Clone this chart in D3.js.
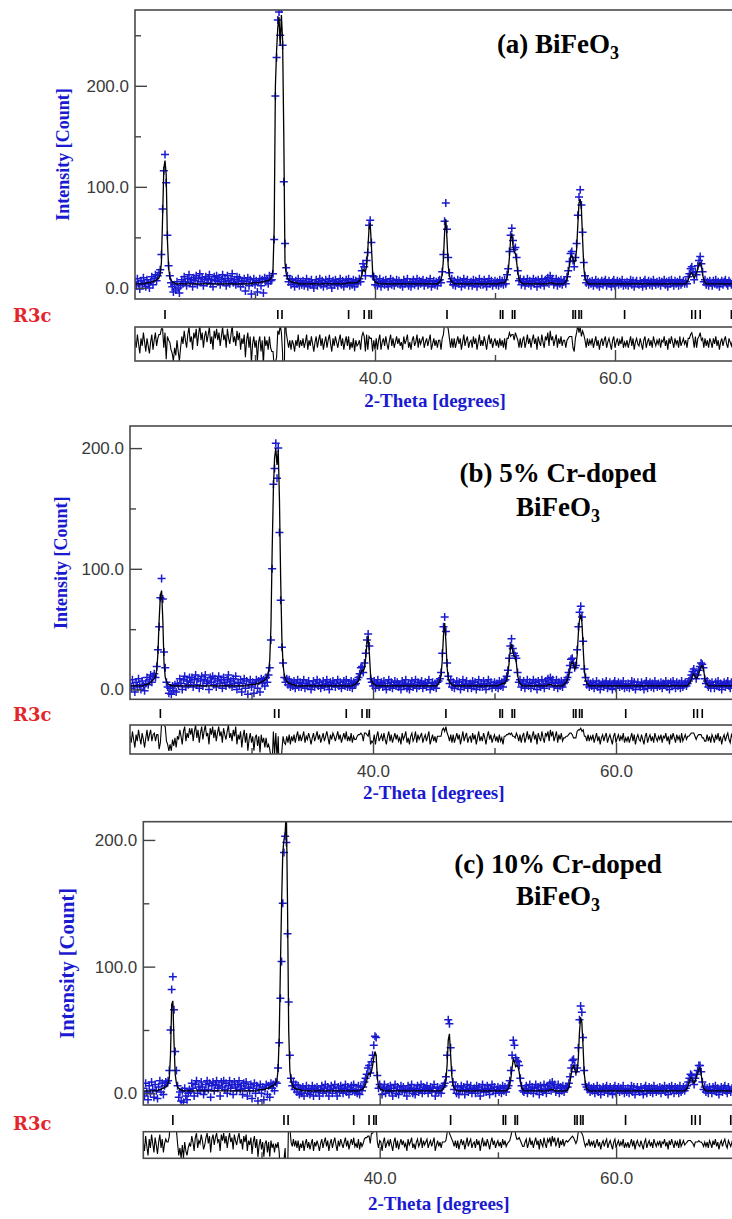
<!DOCTYPE html>
<meta charset="utf-8">
<script src="https://d3js.org/d3.v7.min.js"></script>
<style>
  body { margin: 0; background: #fff; }
  svg { display: block; }
</style>
<svg></svg>
<script>

var width = 732, height = 1219;

// scans run 20.0 -> 69.9 deg 2-theta, one value every 0.1 deg (one row = one degree)
var startAngle = 20, stepAngle = 0.1;

var obsA = [
  6,2,9,4,-1,7,3,10,5,1,
  8,4,0,6,11,3,9,13,7,12,
  15,18,33,78,116,132,104,52,22,12,
  5,1,-4,3,-2,6,0,-5,2,8,
  4,11,6,2,9,13,5,8,1,10,
  7,12,3,9,14,6,10,2,8,11,
  5,9,13,4,8,1,11,7,12,6,
  10,3,8,13,6,9,2,12,7,4,
  9,14,5,8,3,11,6,10,1,7,
  4,9,-3,6,10,2,8,-6,5,9,
  3,7,-4,6,9,2,8,-5,10,6,
  9,4,12,7,8,14,48,190,228,265,
  273,250,276,240,105,44,20,12,6,9,
  3,8,5,1,7,4,9,2,6,3,
  7,2,5,9,1,6,3,8,4,0,
  5,8,2,6,9,3,7,1,5,8,
  2,6,9,4,0,7,3,8,5,2,
  6,9,3,7,1,5,8,4,9,2,
  6,3,8,1,7,4,6,9,6,17,
  24,21,12,27,35,62,67,45,12,11,
  3,8,2,6,9,1,5,7,3,8,
  4,1,6,9,3,7,2,5,8,4,
  7,3,5,1,8,4,6,9,2,5,
  1,6,8,3,5,9,2,7,4,6,
  8,2,5,7,3,6,9,1,4,7,
  3,6,2,7,8,5,16,33,66,84,
  58,30,15,6,9,3,7,2,5,8,
  4,7,1,5,9,3,6,8,2,5,
  6,2,8,4,7,1,5,9,3,6,
  3,8,5,1,6,9,4,7,2,5,
  7,3,6,2,8,4,7,3,8,4,
  13,19,36,52,59,47,38,40,30,17,
  7,9,3,6,8,2,5,9,4,7,
  2,6,9,4,7,1,8,5,3,9,
  5,2,8,6,10,4,12,7,9,3,
  6,9,2,7,4,8,3,6,7,4,
  11,17,26,34,36,27,21,30,44,72,
  90,97,82,55,25,12,5,8,3,6,
  4,7,2,5,8,3,6,1,5,7,
  3,6,8,2,5,7,4,1,6,8,
  2,5,7,3,6,4,8,2,5,3,
  6,2,5,8,3,7,1,5,7,4,
  3,7,4,1,6,8,2,5,7,3,
  6,2,8,5,3,6,4,7,2,6,
  5,8,3,6,1,7,4,8,5,2,
  7,4,6,2,8,3,5,7,4,6,
  4,11,14,19,21,15,8,16,13,22,
  27,31,24,16,6,8,3,6,2,7,
  5,2,7,4,8,3,6,1,5,7,
  3,6,8,4,2,7,5,3,6,4
];

var calcA = [
  4,4,4,4,4,4,4,4,4,5,
  5,5,5,5,6,6,7,7,8,9,
  10,13,25,70,118,126,112,48,20,11,
  8,6,5,5,4,4,4,4,4,4,
  4,4,4,4,4,4,4,4,4,4,
  4,4,4,4,4,4,4,4,4,4,
  4,4,4,4,4,4,4,4,4,4,
  4,4,4,4,4,4,4,4,4,4,
  4,4,4,4,4,4,4,4,4,4,
  4,4,4,4,4,4,4,4,5,5,
  5,5,5,5,5,6,6,6,6,7,
  7,7,8,9,12,18,60,200,235,258,
  268,240,270,245,150,25,14,10,8,7,
  6,6,5,5,5,5,4,4,4,4,
  4,4,4,4,4,4,4,4,4,4,
  4,4,4,4,4,4,4,4,4,4,
  4,4,4,4,4,4,4,4,4,4,
  4,4,4,4,4,4,4,5,5,5,
  5,5,5,5,5,5,6,7,9,13,
  18,17,16,22,38,58,64,42,16,9,
  6,5,5,4,4,4,4,4,4,4,
  4,4,4,4,4,4,4,4,4,4,
  4,4,4,4,4,4,4,4,4,4,
  4,4,4,4,4,4,4,4,4,4,
  4,4,4,4,4,4,4,4,4,4,
  4,4,4,5,6,8,13,28,55,68,
  48,22,12,8,6,5,4,4,4,4,
  4,4,4,4,4,4,4,4,4,4,
  4,4,4,4,4,4,4,4,4,4,
  4,4,4,4,4,4,4,4,4,4,
  4,4,4,4,5,5,5,5,5,7,
  10,16,30,48,54,42,36,34,26,15,
  9,6,5,4,4,4,4,4,4,4,
  4,4,4,4,4,4,4,4,4,4,
  4,4,4,4,4,5,5,5,5,4,
  4,4,4,4,4,4,4,4,5,6,
  9,14,22,30,32,29,25,27,38,62,
  84,88,78,48,20,10,7,5,4,4,
  4,4,4,4,4,4,4,4,4,4,
  4,4,4,4,4,4,4,4,4,4,
  4,4,4,4,4,4,4,4,4,4,
  4,4,4,4,4,4,4,4,4,4,
  4,4,4,4,4,4,4,4,4,4,
  4,4,4,4,4,4,4,4,4,4,
  4,4,4,4,4,4,4,4,4,4,
  4,4,4,4,4,4,4,4,4,4,
  6,8,11,14,15,12,10,12,15,19,
  23,25,22,13,8,5,4,4,4,4,
  4,4,4,4,4,4,4,4,4,4,
  4,4,4,4,4,4,4,4,4,4
];

var obsB = [
  5,1,8,3,-2,6,2,9,4,0,
  7,3,-1,5,10,4,8,12,6,11,
  13,10,19,33,52,76,92,75,31,18,
  6,2,-3,1,-4,3,-1,4,-2,5,
  3,9,5,0,8,11,2,7,4,10,
  6,10,2,8,12,4,9,1,7,11,
  3,8,12,5,7,0,10,6,11,4,
  9,2,7,11,5,8,1,10,6,3,
  8,12,4,7,2,9,5,11,0,6,
  3,8,-2,5,9,1,7,-4,4,8,
  2,6,-3,5,8,1,7,-2,9,5,
  8,3,10,6,12,18,41,100,170,183,
  204,175,200,130,74,35,22,10,6,9,
  4,8,2,6,3,7,1,5,8,2,
  6,2,5,8,1,5,3,7,4,0,
  4,7,2,5,8,3,6,1,4,7,
  2,5,8,4,0,6,3,7,5,2,
  5,8,3,6,1,4,7,3,8,2,
  5,2,7,1,6,4,5,8,10,13,
  18,19,14,22,30,41,46,36,9,6,
  3,7,1,5,8,2,4,6,2,7,
  3,0,5,8,2,6,1,4,7,3,
  6,2,4,0,7,3,5,8,1,4,
  0,5,7,2,4,8,1,6,3,5,
  7,1,4,6,2,5,8,0,3,6,
  2,5,1,6,7,9,14,30,52,60,
  48,22,11,5,8,2,6,1,4,7,
  3,6,0,4,8,2,5,7,1,4,
  5,1,7,3,6,0,4,8,2,5,
  2,7,4,0,5,8,3,6,1,4,
  6,2,5,1,7,3,6,2,7,8,
  11,16,26,36,42,34,30,28,26,14,
  6,8,2,5,7,1,4,8,3,6,
  1,5,8,3,6,0,7,4,2,8,
  4,1,7,5,9,3,10,6,8,2,
  5,8,1,6,3,7,2,5,6,8,
  10,14,20,25,26,22,18,20,33,52,
  64,69,60,40,17,10,4,7,2,5,
  3,6,1,4,7,2,5,0,4,6,
  2,5,7,1,4,6,3,0,5,7,
  1,4,6,2,5,3,7,1,4,2,
  5,1,4,7,2,6,0,4,6,3,
  2,6,3,0,5,7,1,4,6,2,
  5,1,7,4,2,5,3,6,1,5,
  4,7,2,5,0,6,3,7,4,1,
  6,3,5,1,7,2,4,6,3,5,
  7,9,12,15,17,13,9,12,16,19,
  22,21,18,9,5,7,2,5,1,6,
  4,1,6,3,7,2,5,0,4,6,
  2,5,7,3,1,6,4,2,5,3
];

var calcB = [
  3,3,3,3,3,3,3,3,3,3,
  3,3,4,4,4,5,5,6,7,8,
  9,11,16,30,58,78,82,58,22,10,
  7,5,4,4,3,3,3,3,3,3,
  3,3,3,3,3,3,3,3,3,3,
  3,3,3,3,3,3,3,3,3,3,
  3,3,3,3,3,3,3,3,3,3,
  3,3,3,3,3,3,3,3,3,3,
  3,3,3,3,3,3,3,3,3,3,
  3,3,3,3,3,3,3,3,4,4,
  4,4,4,4,5,5,5,6,6,7,
  7,8,9,11,15,24,52,115,165,192,
  200,186,198,158,92,42,20,12,9,7,
  6,5,5,4,4,4,3,3,3,3,
  3,3,3,3,3,3,3,3,3,3,
  3,3,3,3,3,3,3,3,3,3,
  3,3,3,3,3,3,3,3,3,3,
  3,3,3,3,3,3,3,3,3,3,
  3,3,3,3,4,4,5,6,7,10,
  14,16,15,18,26,38,44,30,12,7,
  5,4,4,3,3,3,3,3,3,3,
  3,3,3,3,3,3,3,3,3,3,
  3,3,3,3,3,3,3,3,3,3,
  3,3,3,3,3,3,3,3,3,3,
  3,3,3,3,3,3,3,3,3,3,
  3,3,3,4,5,7,12,24,45,55,
  40,18,9,6,5,4,3,3,3,3,
  3,3,3,3,3,3,3,3,3,3,
  3,3,3,3,3,3,3,3,3,3,
  3,3,3,3,3,3,3,3,3,3,
  3,3,3,3,4,4,5,5,5,6,
  8,13,22,33,38,32,28,27,22,12,
  7,5,4,3,3,3,3,3,3,3,
  3,3,3,3,3,3,3,3,3,3,
  3,3,3,3,4,4,4,4,3,3,
  3,3,3,3,3,3,3,4,5,6,
  8,11,16,21,23,21,17,19,28,46,
  58,62,55,34,15,8,5,4,3,3,
  3,3,3,3,3,3,3,3,3,3,
  3,3,3,3,3,3,3,3,3,3,
  3,3,3,3,3,3,3,3,3,3,
  3,3,3,3,3,3,3,3,3,3,
  3,3,3,3,3,3,3,3,3,3,
  3,3,3,3,3,3,3,3,3,3,
  3,3,3,3,3,3,3,3,3,3,
  3,3,3,3,3,3,3,3,3,3,
  5,6,8,11,13,11,9,10,13,16,
  19,20,17,10,6,4,3,3,3,3,
  3,3,3,3,3,3,3,3,3,3,
  3,3,3,3,3,3,3,3,3,3
];

var obsC = [
  4,-2,8,1,-5,6,0,9,3,-3,
  7,2,-4,5,10,1,8,-1,6,9,
  8,10,18,50,82,92,66,33,18,6,
  -3,1,-6,2,-7,4,-2,-5,0,3,
  1,8,4,-2,7,10,0,5,3,9,
  5,-1,2,7,10,3,8,-3,6,9,
  2,7,10,4,6,-2,9,5,10,3,
  8,0,6,10,4,7,-1,9,5,2,
  7,10,3,6,-1,8,4,9,-2,5,
  2,7,-4,4,8,0,6,-6,3,7,
  0,5,-5,4,7,-1,6,-3,8,4,
  7,2,9,8,20,40,75,104,150,190,
  203,198,126,72,30,12,6,9,3,7,
  1,6,-1,4,0,5,-2,3,6,0,
  4,-1,3,6,-2,4,1,5,2,-2,
  3,6,0,4,7,1,5,-2,3,6,
  0,4,7,2,-2,5,1,6,3,0,
  4,7,1,5,-1,3,6,2,7,1,
  3,0,6,-1,5,2,5,9,12,15,
  20,22,16,25,30,38,45,44,14,4,
  7,5,-1,4,7,0,3,5,1,6,
  2,-2,4,7,0,5,-1,3,6,2,
  5,1,3,-2,6,2,4,7,0,3,
  -1,4,6,1,3,7,0,5,2,4,
  6,0,3,5,1,4,7,-2,2,5,
  1,4,0,5,6,8,13,30,58,55,
  36,18,9,3,6,0,5,-1,3,6,
  2,5,-1,3,7,1,4,6,0,3,
  4,0,6,2,5,-2,3,7,1,4,
  1,6,3,-1,4,7,2,5,0,3,
  5,1,4,0,6,2,5,1,4,6,
  10,18,30,42,38,28,26,25,22,12,
  6,2,1,4,6,0,3,7,2,5,
  0,4,7,2,5,-1,6,3,1,7,
  3,0,6,4,8,2,9,5,7,1,
  4,7,0,5,2,6,1,4,5,5,
  8,13,20,26,27,22,17,20,36,58,
  69,64,44,18,7,5,3,6,1,4,
  2,5,0,3,6,1,4,-1,3,5,
  1,4,6,0,3,5,2,-1,4,6,
  0,3,5,1,4,2,6,0,3,1,
  4,0,3,6,1,5,-1,3,5,2,
  1,5,2,-1,4,6,0,3,5,1,
  4,0,6,3,1,4,2,5,0,4,
  3,6,1,4,-1,5,2,6,3,0,
  5,2,4,0,6,1,3,5,2,4,
  6,9,12,15,14,10,7,12,15,18,
  22,22,17,9,3,5,1,4,0,5,
  3,0,5,2,6,1,4,-1,3,5,
  1,4,6,2,0,5,3,1,4,2
];

var calcC = [
  2,2,2,2,2,2,2,2,2,2,
  2,2,2,3,3,3,4,4,5,5,
  6,8,12,30,70,73,40,15,8,5,
  4,3,3,2,2,2,2,2,2,2,
  2,2,2,2,2,2,2,2,2,2,
  2,2,2,2,2,2,2,2,2,2,
  2,2,2,2,2,2,2,2,2,2,
  2,2,2,2,2,2,2,2,2,2,
  2,2,2,2,2,2,2,2,2,2,
  2,2,2,2,2,2,2,2,3,3,
  3,3,3,3,4,4,4,5,5,6,
  6,7,8,10,18,45,100,150,190,200,
  205,225,150,50,18,10,7,5,4,4,
  3,3,3,3,2,2,2,2,2,2,
  2,2,2,2,2,2,2,2,2,2,
  2,2,2,2,2,2,2,2,2,2,
  2,2,2,2,2,2,2,2,2,2,
  2,2,2,2,2,2,2,2,2,2,
  2,2,2,2,3,3,4,5,7,10,
  14,16,15,17,22,28,33,30,12,6,
  4,3,3,2,2,2,2,2,2,2,
  2,2,2,2,2,2,2,2,2,2,
  2,2,2,2,2,2,2,2,2,2,
  2,2,2,2,2,2,2,2,2,2,
  2,2,2,2,2,2,2,2,2,2,
  2,2,2,3,4,6,10,22,42,47,
  30,14,7,4,3,2,2,2,2,2,
  2,2,2,2,2,2,2,2,2,2,
  2,2,2,2,2,2,2,2,2,2,
  2,2,2,2,2,2,2,2,2,2,
  2,2,2,2,2,2,2,2,3,4,
  7,12,20,27,25,21,22,21,17,9,
  5,3,2,2,2,2,2,2,2,2,
  2,2,2,2,2,2,2,2,2,2,
  2,2,2,2,3,3,3,3,2,2,
  2,2,2,2,2,2,2,2,2,3,
  5,9,15,20,22,19,16,17,27,48,
  60,56,38,16,8,4,3,2,2,2,
  2,2,2,2,2,2,2,2,2,2,
  2,2,2,2,2,2,2,2,2,2,
  2,2,2,2,2,2,2,2,2,2,
  2,2,2,2,2,2,2,2,2,2,
  2,2,2,2,2,2,2,2,2,2,
  2,2,2,2,2,2,2,2,2,2,
  2,2,2,2,2,2,2,2,2,2,
  2,2,2,2,2,2,2,2,2,3,
  4,6,9,12,12,9,8,10,13,16,
  19,20,15,8,4,3,2,2,2,2,
  2,2,2,2,2,2,2,2,2,2,
  2,2,2,2,2,2,2,2,2,2
];

// R3c Bragg positions (deg 2-theta)
var reflections = [22.5, 31.9, 32.25, 37.8, 39.1, 39.5, 39.7, 46.0, 50.45, 50.65,
                   51.45, 51.65, 56.5, 56.7, 57.0, 57.2, 60.8, 66.4, 66.7, 67.1, 69.7];

var xLabelTicks = [40, 60];
var xMinorTicks = [30, 50];
var yMajorTicks = [0, 100, 200];
var yMinorTicks = [50, 150, 250];
var phaseName = "R3c";
var xTitle = "2-Theta [degrees]";
var yTitle = "Intensity [Count]";

var blue = "#1a1ad0";

var panels = [
  {key: "a", obs: obsA, calc: calcA,
   title: [["(a) BiFeO", "3"]], titleY: [53],
   left: 135, degPx: 12, top: 10, bottom: 299, yMin: -11, yMax: 275,
   reflTop: 310, reflBot: 319, diffTop: 327, diffBot: 361,
   xLabelY: 378, xTitleY: 400, yTitleX: 63, yTitleSize: 18, phaseY: 322},
  {key: "b", obs: obsB, calc: calcB,
   title: [["(b) 5% Cr-doped", ""], ["BiFeO", "3"]], titleY: [482, 516],
   left: 130, degPx: 12.15, top: 426, bottom: 699.3, yMin: -8.1, yMax: 218.3,
   reflTop: 709, reflBot: 718, diffTop: 725, diffBot: 754,
   xLabelY: 771, xTitleY: 792, yTitleX: 61, yTitleSize: 18, phaseY: 721},
  {key: "c", obs: obsC, calc: calcC,
   title: [["(c) 10% Cr-doped", ""], ["BiFeO", "3"]], titleY: [873, 905],
   left: 143.3, degPx: 11.82, top: 821.7, bottom: 1105, yMin: -9.2, yMax: 214.4,
   reflTop: 1115, reflBot: 1125, diffTop: 1131.7, diffBot: 1158.3,
   xLabelY: 1178, xTitleY: 1203, yTitleX: 67, yTitleSize: 20.5, phaseY: 1130}
];

var svg = d3.select("svg")
    .attr("width", width)
    .attr("height", height)
    .attr("viewBox", [0, 0, width, height]);

svg.append("rect").attr("width", width).attr("height", height).attr("fill", "#fff");

var defs = svg.append("defs");

panels.forEach(drawPanel);

function drawPanel(p) {
    var right = p.left + 50 * p.degPx;

    var x = d3.scaleLinear().domain([20, 70]).range([p.left, right]);
    var y = d3.scaleLinear().domain([p.yMin, p.yMax]).range([p.bottom, p.top]);
    var yd = d3.scaleLinear().domain([-9, 9]).range([p.diffBot, p.diffTop]);

    var rows = p.obs.map((v, j) => ({tt: startAngle + j * stepAngle, obs: v, calc: p.calc[j]}));

    defs.append("clipPath").attr("id", "main-" + p.key)
        .append("rect")
        .attr("x", p.left).attr("y", p.top)
        .attr("width", right - p.left).attr("height", p.bottom - p.top);
    defs.append("clipPath").attr("id", "diff-" + p.key)
        .append("rect")
        .attr("x", p.left).attr("y", p.diffTop)
        .attr("width", right - p.left).attr("height", p.diffBot - p.diffTop);

    var g = svg.append("g");

    // observed points
    g.append("g")
        .attr("clip-path", `url(#main-${p.key})`)
        .selectAll("path")
        .data(rows)
        .join("path")
        .attr("transform", d => `translate(${x(d.tt)},${y(d.obs)})`)
        .attr("d", "M-4,0H4M0,-4V4")
        .attr("stroke", blue)
        .attr("stroke-width", 1.5)
        .attr("fill", "none");

    // calculated profile
    g.append("path")
        .datum(rows)
        .attr("clip-path", `url(#main-${p.key})`)
        .attr("fill", "none")
        .attr("stroke", "#000")
        .attr("stroke-width", 1.3)
        .attr("d", d3.line().x(d => x(d.tt)).y(d => y(d.calc)));

    // difference curve
    g.append("path")
        .datum(rows)
        .attr("clip-path", `url(#diff-${p.key})`)
        .attr("fill", "none")
        .attr("stroke", "#000")
        .attr("stroke-width", 1.1)
        .attr("d", d3.line().x(d => x(d.tt)).y(d => yd(d.obs - d.calc)));

    // frames
    g.append("rect")
        .attr("x", p.left).attr("y", p.top)
        .attr("width", right - p.left).attr("height", p.bottom - p.top)
        .attr("fill", "none").attr("stroke", "#4a4a4a").attr("stroke-width", 1.6);
    g.append("rect")
        .attr("x", p.left).attr("y", p.diffTop)
        .attr("width", right - p.left).attr("height", p.diffBot - p.diffTop)
        .attr("fill", "none").attr("stroke", "#4a4a4a").attr("stroke-width", 1.6);

    // reflection markers
    g.append("g")
        .selectAll("line")
        .data(reflections)
        .join("line")
        .attr("x1", d => x(d)).attr("x2", d => x(d))
        .attr("y1", p.reflTop).attr("y2", p.reflBot)
        .attr("stroke", "#000")
        .attr("stroke-width", 1.6);

    // y axis, ticks pointing inwards (only the ones inside this panel's range)
    var fmt = d3.format(".1f");
    var inY = v => v >= p.yMin && v <= p.yMax;
    g.append("g")
        .attr("transform", `translate(${p.left},0)`)
        .call(d3.axisLeft(y).tickValues(yMajorTicks.filter(inY)).tickSize(-12).tickPadding(6).tickFormat(fmt))
        .call(styleAxis);
    g.append("g")
        .attr("transform", `translate(${p.left},0)`)
        .call(d3.axisLeft(y).tickValues(yMinorTicks.filter(inY)).tickSize(-6).tickFormat(""))
        .call(styleAxis);

    // x ticks on the main plot
    g.append("g")
        .attr("transform", `translate(0,${p.bottom})`)
        .call(d3.axisBottom(x).tickValues(xLabelTicks).tickSize(-12).tickFormat(""))
        .call(styleAxis);
    g.append("g")
        .attr("transform", `translate(0,${p.bottom})`)
        .call(d3.axisBottom(x).tickValues(xMinorTicks).tickSize(-6).tickFormat(""))
        .call(styleAxis);

    // x axis under the difference box, with labels
    g.append("g")
        .attr("transform", `translate(0,${p.diffBot})`)
        .call(d3.axisBottom(x).tickValues(xLabelTicks).tickSize(-11)
              .tickPadding(p.xLabelY - p.diffBot - 6).tickFormat(fmt))
        .call(styleAxis);
    g.append("g")
        .attr("transform", `translate(0,${p.diffBot})`)
        .call(d3.axisBottom(x).tickValues(xMinorTicks).tickSize(-6).tickFormat(""))
        .call(styleAxis);

    // axis titles
    g.append("text")
        .attr("x", x(45))
        .attr("y", p.xTitleY)
        .attr("dy", "0.35em")
        .attr("text-anchor", "middle")
        .attr("font-family", "Liberation Serif, serif")
        .attr("font-weight", "bold")
        .attr("font-size", 19)
        .attr("fill", blue)
        .text(xTitle);

    g.append("text")
        .attr("transform", `translate(${p.yTitleX},${(p.top + p.bottom) / 2}) rotate(-90)`)
        .attr("dy", "0.35em")
        .attr("text-anchor", "middle")
        .attr("font-family", "Liberation Serif, serif")
        .attr("font-weight", "bold")
        .attr("font-size", p.yTitleSize)
        .attr("fill", blue)
        .text(yTitle);

    // phase label
    g.append("text")
        .attr("x", 13)
        .attr("y", p.phaseY)
        .attr("font-family", "DejaVu Serif, serif")
        .attr("font-weight", "bold")
        .attr("font-size", 18)
        .attr("fill", "#e3262a")
        .text(phaseName);

    // sample title
    p.title.forEach(function(line, k) {
        var t = g.append("text")
            .attr("x", 558)
            .attr("y", p.titleY[k])
            .attr("text-anchor", "middle")
            .attr("font-family", "Liberation Serif, serif")
            .attr("font-weight", "bold")
            .attr("font-size", 27)
            .attr("fill", "#000");
        t.append("tspan").text(line[0]);
        if (line[1]) {
            t.append("tspan")
                .attr("font-size", 18)
                .attr("dy", 6)
                .text(line[1]);
        }
    });
}

function styleAxis(a) {
    a.select(".domain").remove();
    a.attr("color", "#444")
     .attr("font-family", "Liberation Sans, Arial, sans-serif")
     .attr("font-size", 17);
    a.selectAll(".tick line").attr("stroke-width", 1.4);
    a.selectAll(".tick text").attr("fill", "#3a3a3a");
}

</script>
